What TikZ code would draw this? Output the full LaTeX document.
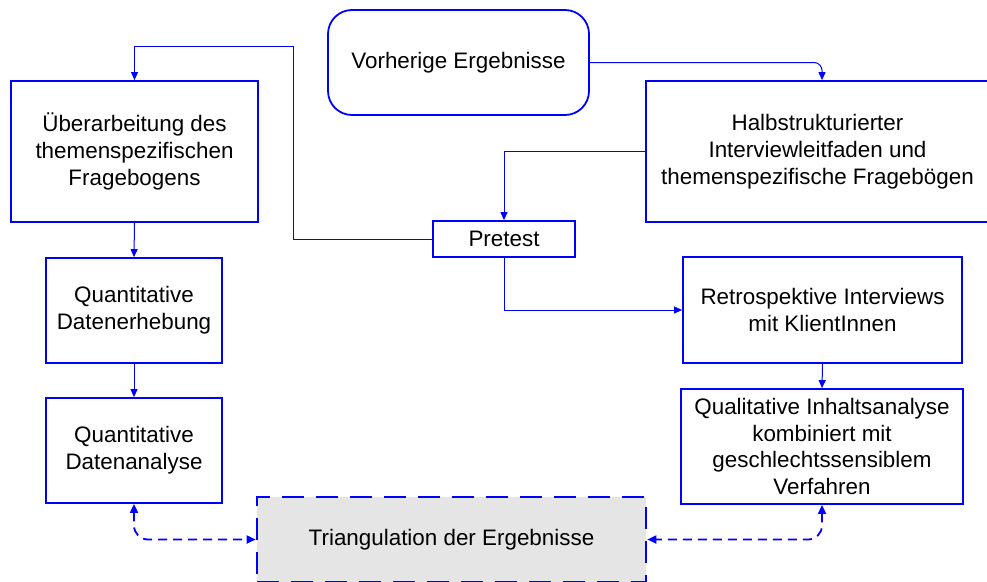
\documentclass[tikz,border=0pt]{standalone}
\usepackage{fontspec}
\setmainfont{Liberation Sans}
\usetikzlibrary{arrows.meta}
\definecolor{lineblue}{RGB}{0,0,255}
\definecolor{trifill}{RGB}{229,229,229}
\begin{document}
\begin{tikzpicture}[x=1pt,y=-1pt,
 box/.style={draw=lineblue, line width=1.8pt, fill=white, align=center, inner sep=0pt, font=\fontsize{22.4}{26.8}\selectfont, text=black},
 conn/.style={draw=lineblue, line width=1pt, -{Triangle[width=7pt,length=8pt]}},
 dconn/.style={draw=lineblue, line width=1.8pt, dash pattern=on 9pt off 6pt, {Triangle[width=8pt,length=9pt]}-{Triangle[width=8pt,length=9pt]}, rounded corners=14pt}]
\useasboundingbox (0,0) rectangle (987,581);

\node[box, minimum width=261pt, minimum height=105pt, rounded corners=24pt] (vor) at (458.5,62.5) {Vorherige Ergebnisse};
\node[box, minimum width=343pt, minimum height=141pt] (halb) at (817.5,151.5) {Halbstrukturierter\\Interviewleitfaden und\\themenspezifische Fragebögen};
\node[box, minimum width=247pt, minimum height=141pt] (ueb) at (134.5,151.5) {Überarbeitung des\\themenspezifischen\\Fragebogens};
\node[box, minimum width=142pt, minimum height=36pt] (pre) at (504,239) {Pretest};
\node[box, minimum width=279pt, minimum height=106pt] (retro) at (822.5,310) {Retrospektive Interviews\\mit KlientInnen};
\node[box, minimum width=176pt, minimum height=105pt] (qerh) at (134,310.5) {Quantitative\\Datenerhebung};
\node[box, minimum width=176pt, minimum height=105pt] (qana) at (134,450.5) {Quantitative\\Datenanalyse};
\node[box, minimum width=282pt, minimum height=115pt] (qual) at (822,446.5) {Qualitative Inhaltsanalyse\\kombiniert mit\\geschlechtssensiblem\\Verfahren};
\node[box, fill=trifill, line width=2.6pt, dash pattern=on 22pt off 12pt, minimum width=389pt, minimum height=85pt] (tri) at (451.5,539.5) {Triangulation der Ergebnisse};

\coordinate (k1) at (293,46);
\draw[conn, rounded corners=8pt] (vor.east) -| ([xshift=4.5pt]halb.north);
\draw[conn] (ueb.south) -- (qerh.north);
\draw[conn] (qerh.south) -- (qana.north);
\draw[conn] (retro.south) -- (qual.north);
\draw[conn] (halb.west) -| (pre.north);
\draw[conn] (pre.south) |- (retro.west);
\draw[conn] (pre.west) -| (k1) -| (ueb.north);
\draw[dconn] (qana.south) |- (tri.west);
\draw[dconn] (qual.south) |- (tri.east);
\end{tikzpicture}
\end{document}
